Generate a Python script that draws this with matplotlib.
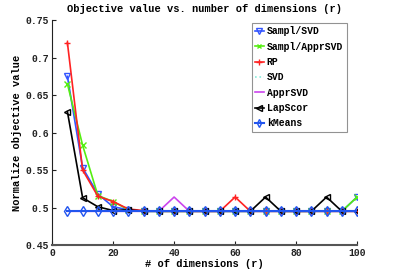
import matplotlib
matplotlib.use('Agg')
import matplotlib.pyplot as plt

dims = [5, 10, 15, 20, 25, 30, 35, 40, 45, 50, 55, 60, 65, 70, 75, 80, 85, 90, 95, 100]

sampl_svd = [0.675, 0.553, 0.518, 0.501, 0.497, 0.495, 0.495, 0.495, 0.495, 0.495,
             0.495, 0.495, 0.495, 0.495, 0.495, 0.495, 0.495, 0.495, 0.495, 0.514]
sampl_apprsvd = [0.665, 0.583, 0.516, 0.508, 0.497, 0.495, 0.495, 0.495, 0.495, 0.495,
                 0.495, 0.495, 0.495, 0.495, 0.495, 0.495, 0.495, 0.495, 0.495, 0.514]
rp = [0.720, 0.550, 0.515, 0.508, 0.498, 0.496, 0.495, 0.495, 0.495, 0.495,
      0.495, 0.514, 0.495, 0.495, 0.495, 0.495, 0.495, 0.495, 0.495, 0.495]
svd = [0.495] * 20
apprsvd = [0.495, 0.495, 0.495, 0.495, 0.495, 0.495, 0.495, 0.514, 0.495, 0.495,
           0.495, 0.495, 0.495, 0.495, 0.495, 0.495, 0.495, 0.495, 0.495, 0.495]
lapscor = [0.628, 0.513, 0.501, 0.496, 0.497, 0.495, 0.495, 0.495, 0.495, 0.495,
           0.495, 0.495, 0.495, 0.514, 0.495, 0.495, 0.495, 0.514, 0.495, 0.495]
kmeans = [0.495] * 20

plt.rcParams['font.family'] = ['Liberation Mono', 'DejaVu Sans Mono']
plt.rcParams['font.weight'] = 'bold'

fig = plt.figure(figsize=(3.95, 2.75), dpi=100)
ax = fig.add_axes([0.132, 0.109, 0.772, 0.818])

ax.plot(dims, sampl_svd, color='#3355ff', marker='v', ms=5, mfc='none', mew=1, lw=1.2, label='Sampl/SVD')
ax.plot(dims, sampl_apprsvd, color='#55ee11', marker='x', ms=4, mew=1, lw=1.2, label='Sampl/ApprSVD')
ax.plot(dims, rp, color='#ff2222', marker='+', ms=5, mew=1, lw=1.2, label='RP')
ax.plot(dims, svd, color='#88eedd', ls=':', lw=1.2, label='SVD')
ax.plot(dims, apprsvd, color='#cc44ee', lw=1.2, label='ApprSVD')
ax.plot(dims, lapscor, color='black', marker='<', ms=5, mfc='none', mew=1, lw=1.2, label='LapScor')
ax.plot(dims, kmeans, color='#2255ee', marker='d', ms=5, mfc='none', mew=1, lw=1.5, label='kMeans')

ax.set_xlim(0, 100)
ax.set_ylim(0.45, 0.75)
ax.set_xticks([0, 20, 40, 60, 80, 100])
ax.set_yticks([0.45, 0.5, 0.55, 0.6, 0.65, 0.7, 0.75])
ax.set_yticklabels(['0.45', '0.5', '0.55', '0.6', '0.65', '0.7', '0.75'])
ax.tick_params(direction='in', length=3, labelsize=7, colors='#222222', pad=2)
ax.spines['top'].set_visible(False)
ax.spines['right'].set_visible(False)
ax.spines['left'].set_color('#222222')
ax.spines['bottom'].set_color('#555555')
ax.spines['bottom'].set_linewidth(1.5)

ax.set_title('Objective value vs. number of dimensions (r)', fontsize=7.5, fontweight='bold', pad=6)
ax.set_xlabel('# of dimensions (r)', fontsize=7.5, fontweight='bold', labelpad=1)
ax.set_ylabel('Normalize objective value', fontsize=7.5, fontweight='bold', labelpad=3)

leg = ax.legend(loc='upper right', bbox_to_anchor=(0.975, 1.0), fontsize=7, frameon=True,
                fancybox=False, edgecolor='#777777', handlelength=0.9, handletextpad=0.3,
                labelspacing=0.55, borderpad=0.35, borderaxespad=0.3, markerscale=0.8)
leg.get_frame().set_linewidth(0.8)

fig.savefig('out.png', dpi=100)
